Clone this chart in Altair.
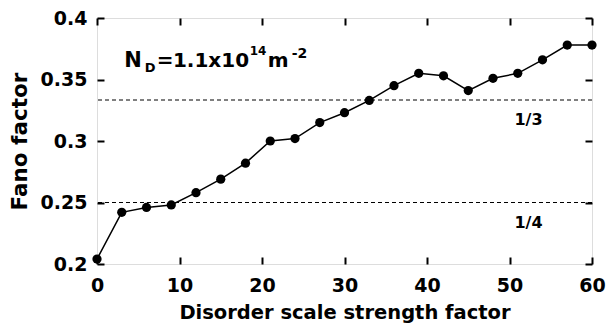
import altair as alt
import pandas as pd

# ---- data ----
strength = [0, 3, 6, 9, 12, 15, 18, 21, 24, 27, 30, 33, 36, 39, 42, 45, 48, 51, 54, 57, 60]
fano = [0.204, 0.242, 0.246, 0.248, 0.258, 0.269, 0.282, 0.300, 0.302, 0.315, 0.323,
        0.333, 0.345, 0.355, 0.353, 0.341, 0.351, 0.355, 0.366, 0.378, 0.378]
ref_levels = [1 / 3, 1 / 4]
ref_labels = ["1/3", "1/4"]
x_ticks = [0, 10, 20, 30, 40, 50, 60]
y_ticks = [0.2, 0.25, 0.3, 0.35, 0.4]

df = pd.DataFrame({"strength": strength, "fano": fano})
ref_df = pd.DataFrame({"level": ref_levels, "label": ref_labels})

FONT = "DejaVu Sans"
xscale = alt.Scale(domain=[0, 60], nice=False, zero=False)
yscale = alt.Scale(domain=[0.2, 0.4], nice=False, zero=False)

common = dict(offset=-7, ticks=True, tickSize=7, tickWidth=2, tickColor="black",
              tickOpacity=1, domain=False, grid=False, labelFlush=False,
              labelOverlap=False, zindex=2)

bottom_axis = alt.Axis(orient="bottom", values=x_ticks, format="d", labelPadding=12,
                       labelFont=FONT, labelFontSize=19, labelFontWeight="bold",
                       labelColor="black", title="Disorder scale strength factor",
                       titleFont=FONT, titleFontSize=19.5, titleFontWeight="bold",
                       titleColor="black", titlePadding=8, **common)
left_axis = alt.Axis(orient="left", values=y_ticks, format=".2~f", labelPadding=10,
                     labelFont=FONT, labelFontSize=19, labelFontWeight="bold",
                     labelColor="black", title="Fano factor",
                     titleFont=FONT, titleFontSize=21.5, titleFontWeight="bold",
                     titleColor="black", titlePadding=9, **common)
top_axis = alt.Axis(orient="top", values=x_ticks, labels=False, title=None, **common)
right_axis = alt.Axis(orient="right", values=y_ticks, labels=False, title=None, **common)

base = alt.Chart(df)
line = base.mark_line(color="black", strokeWidth=1.5).encode(
    x=alt.X("strength:Q", scale=xscale, axis=bottom_axis),
    y=alt.Y("fano:Q", scale=yscale, axis=left_axis),
)
points = base.mark_circle(color="black", size=85, opacity=1).encode(
    x=alt.X("strength:Q", scale=xscale, axis=top_axis),
    y=alt.Y("fano:Q", scale=yscale, axis=right_axis),
)

rules = alt.Chart(ref_df).mark_rule(color="black", strokeWidth=1, strokeDash=[4, 3]).encode(
    y=alt.Y("level:Q", axis=None)
)
ref_df["lx"] = 52.3
ref_text = alt.Chart(ref_df).mark_text(
    font=FONT, fontSize=16, fontWeight="bold", color="black", align="center",
    baseline="alphabetic", dy=25
).encode(
    x=alt.X("lx:Q", axis=None),
    y=alt.Y("level:Q", axis=None),
    text="label:N",
)


def piece(txt, xv, yv, size):
    d = pd.DataFrame({"px": [xv], "py": [yv], "t": [txt]})
    return alt.Chart(d).mark_text(
        font=FONT, fontSize=size, fontWeight="bold", color="black",
        align="left", baseline="alphabetic"
    ).encode(x=alt.X("px:Q", axis=None), y=alt.Y("py:Q", axis=None), text="t:N")


annotation = [
    piece("N", 3.3, 0.3604, 21),
    piece("D", 5.8, 0.3561, 13),
    piece("=", 7.25, 0.3604, 20),
    piece("1.1x10", 9.2, 0.3604, 20),
    piece("14", 18.5, 0.3699, 12),
    piece("m", 20.7, 0.3604, 20),
    piece("-2", 23.6, 0.3675, 14),
]

chart = alt.layer(line, points, rules, ref_text, *annotation).properties(
    width=495,
    height=246,
    autosize=alt.AutoSizeParams(type="none"),
    padding={"left": 97, "top": 18, "right": 18, "bottom": 62},
).configure_view(stroke="black", strokeWidth=2).configure(background="white")

chart.save("out.html", embed_options={"renderer": "svg", "actions": False})
